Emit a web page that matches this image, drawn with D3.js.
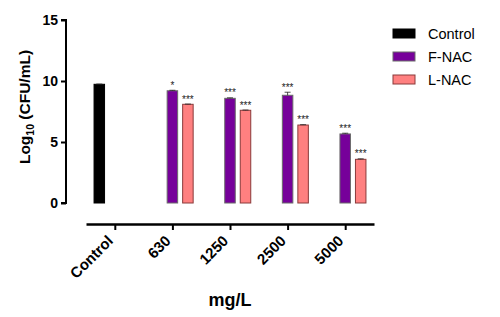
<!DOCTYPE html>
<html>
<head>
<meta charset="utf-8">
<script src="https://cdn.jsdelivr.net/npm/d3@7"></script>
<style>
  body { margin: 0; background: #fff; }
  text { font-family: "Liberation Sans", Arial, sans-serif; }
</style>
</head>
<body>
<svg id="chart" width="500" height="317"></svg>
<script>
// data
const categories = ["Control", "630", "1250", "2500", "5000"];
const seriesNames = ["Control", "F-NAC", "L-NAC"];
const controlVals = [9.73, null, null, null, null];
const fnacVals = [null, 9.2, 8.58, 8.83, 5.66];
const lnacVals = [null, 8.09, 7.6, 6.39, 3.58];
const controlErr = [0.02, null, null, null, null];
const fnacErr = [null, 0.04, 0.04, 0.25, 0.06];
const lnacErr = [null, 0.02, 0.02, 0.03, 0.04];
const controlSig = [null, null, null, null, null];
const fnacSig = [null, "*", "***", "***", "***"];
const lnacSig = [null, "***", "***", "***", "***"];
const yTicks = [0, 5, 10, 15];

const colors = ["#000000", "#76009a", "#ff8080"];
const strokes = ["#000000", "#6a6a6a", "#8a3a3a"];

const svg = d3.select("#chart");

const x = d3.scalePoint().domain(categories).range([86, 374]).padding(0.5);
const y = d3.scaleLinear().domain([0, 15]).range([203, 20]);
const slot = 15.5, barW = 10.5;

const series = [
  { vals: controlVals, err: controlErr, sig: controlSig, off: -1 },
  { vals: fnacVals, err: fnacErr, sig: fnacSig, off: 0 },
  { vals: lnacVals, err: lnacErr, sig: lnacSig, off: 1 }
];

// bars
series.forEach((s, si) => {
  const pts = categories.map((c, i) => ({ c, v: s.vals[i], e: s.err[i], sig: s.sig[i] }))
    .filter(d => d.v != null);
  const g = svg.append("g");
  g.selectAll("rect").data(pts).join("rect")
    .attr("x", d => x(d.c) + s.off * slot - barW / 2)
    .attr("y", d => y(d.v))
    .attr("width", barW)
    .attr("height", d => y(0) - y(d.v))
    .attr("fill", colors[si])
    .attr("stroke", strokes[si])
    .attr("stroke-width", 1);
  // error bars (upper only)
  g.selectAll("path.err").data(pts).join("path")
    .attr("class", "err")
    .attr("d", d => {
      const cx = x(d.c) + s.off * slot;
      const t = y(d.v + d.e);
      return `M${cx},${y(d.v)}V${t}M${cx - 3},${t}H${cx + 3}`;
    })
    .attr("stroke", "#222")
    .attr("stroke-width", 0.8)
    .attr("fill", "none");
  g.selectAll("text").data(pts.filter(d => d.sig)).join("text")
    .attr("x", d => x(d.c) + s.off * slot)
    .attr("y", d => y(d.v + d.e) - 1.5)
    .attr("text-anchor", "middle")
    .attr("font-size", 10)
    .attr("fill", "#222")
    .text(d => d.sig);
});

// y axis
const yAxis = svg.append("g")
  .attr("transform", "translate(66,0)")
  .call(d3.axisLeft(y).tickValues(yTicks).tickSize(5).tickPadding(3));
yAxis.select(".domain").attr("stroke-width", 2).attr("d", `M-5,${y(15)}H0V${y(0)}H-5`);
yAxis.selectAll(".tick line").attr("stroke-width", 2);
yAxis.selectAll(".tick text").attr("font-size", 14).attr("font-weight", "bold")
  .attr("font-family", "Liberation Sans, Arial, sans-serif").attr("fill", "#000");

// x axis
const xAxis = svg.append("g")
  .attr("transform", "translate(0,224)")
  .call(d3.axisBottom(x).tickSize(6).tickSizeOuter(0));
xAxis.select(".domain").attr("stroke-width", 2.5);
xAxis.selectAll(".tick line").attr("stroke-width", 2);
xAxis.selectAll(".tick text")
  .attr("font-size", 15).attr("font-weight", "bold")
  .attr("font-family", "Liberation Sans, Arial, sans-serif").attr("fill", "#000")
  .attr("text-anchor", "end")
  .attr("dy", null)
  .attr("x", -13.5)
  .attr("y", 11.7)
  .attr("transform", "rotate(-45)");

// axis titles
svg.append("text")
  .attr("transform", "translate(30,107) rotate(-90)")
  .attr("text-anchor", "middle")
  .attr("font-size", 15.5).attr("font-weight", "bold")
  .call(t => {
    t.append("tspan").text("Log");
    t.append("tspan").attr("font-size", 10.5).attr("dy", 3.5).text("10");
    t.append("tspan").attr("dy", -3.5).text(" (CFU/mL)");
  });

svg.append("text")
  .attr("x", 230).attr("y", 306)
  .attr("text-anchor", "middle")
  .attr("font-size", 18).attr("font-weight", "bold")
  .text("mg/L");

// legend
const legend = svg.append("g").attr("transform", "translate(393,29)");
seriesNames.forEach((name, i) => {
  const row = legend.append("g").attr("transform", `translate(0,${i * 23})`);
  row.append("rect").attr("width", 22).attr("height", 9)
    .attr("fill", colors[i]).attr("stroke", strokes[i]).attr("stroke-width", 1);
  row.append("text").attr("x", 35).attr("y", 10).attr("font-size", 14.5).text(name);
});
</script>
</body>
</html>
